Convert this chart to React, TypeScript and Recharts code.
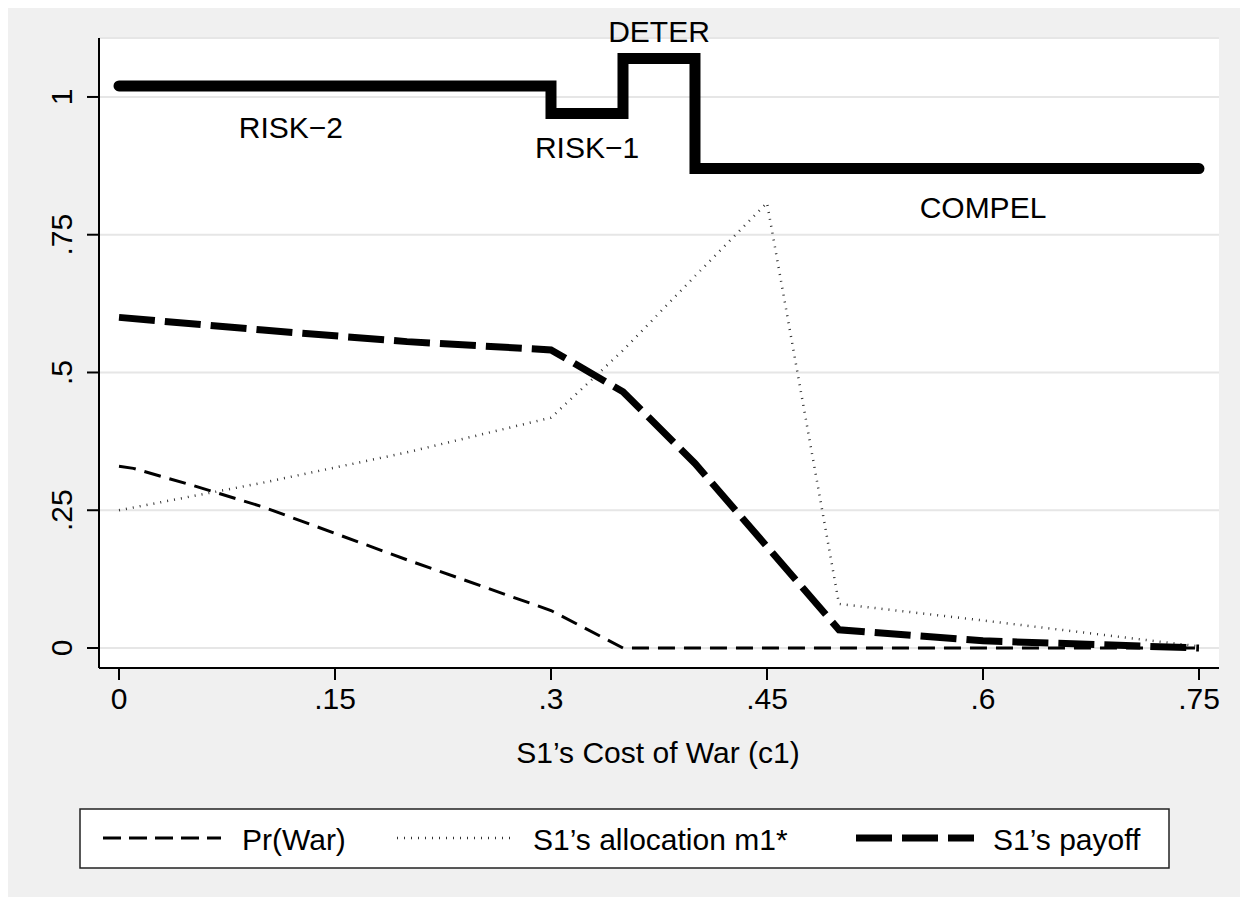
import React from 'react';
import {
  LineChart,
  Line,
  XAxis,
  YAxis,
  CartesianGrid,
  ReferenceDot,
} from 'recharts';

// regime step line
const regimeCost = [0, 0.3, 0.35, 0.4, 0.75];
const regimeLevel = [1.02, 0.97, 1.07, 0.87, 0.87];

// Pr(War)
const warCost = [0, 0.01, 0.05, 0.1, 0.2, 0.3, 0.35, 0.5, 0.75];
const prWar = [0.33, 0.326, 0.296, 0.256, 0.16, 0.068, 0, 0, 0];

// S1's allocation m1*
const allocCost = [0, 0.1, 0.2, 0.3, 0.35, 0.4, 0.45, 0.5, 0.6, 0.75];
const allocation = [0.25, 0.3, 0.355, 0.418, 0.54, 0.675, 0.808, 0.08, 0.05, 0.003];

// S1's payoff
const payoffCost = [0, 0.1, 0.2, 0.3, 0.35, 0.4, 0.5, 0.6, 0.75];
const payoff = [0.6, 0.577, 0.556, 0.541, 0.465, 0.335, 0.033, 0.013, 0];

const xTicks = [0, 0.15, 0.3, 0.45, 0.6, 0.75];
const yTicks = [0, 0.25, 0.5, 0.75, 1];

const regimeLabels = ['RISK\u22122', 'RISK\u22121', 'DETER', 'COMPEL'];
const regimeLabelX = [0.1194, 0.325, 0.375, 0.6];
const regimeLabelY = [0.9456, 0.909, 1.119, 0.8];

const FONT = '"Liberation Sans", Arial, Helvetica, sans-serif';

const toPoints = (xs: number[], ys: number[]) => xs.map((x, i) => ({ x, y: ys[i] }));

const fmt = (v: number) => (v === 0 || v === 1 ? String(v) : String(v).replace(/^0/, ''));

const XTick = ({ x, y, payload }: any) => (
  <text x={x} y={y + 29} textAnchor="middle" fontSize={30} fontFamily={FONT} fill="#000">
    {fmt(payload.value)}
  </text>
);

const YTick = ({ x, y, payload }: any) => (
  <text
    transform={`translate(${x},${y}) rotate(-90)`}
    textAnchor="middle"
    fontSize={30}
    fontFamily={FONT}
    fill="#000"
  >
    {fmt(payload.value)}
  </text>
);

const legendItems = [
  { label: 'Pr(War)', x: 103, textX: 242, stroke: '#000', width: 3, dash: '18 8' },
  { label: 'S1\u2019s allocation m1*', x: 397, textX: 533, stroke: '#333', width: 2.5, dash: '1 6' },
  { label: 'S1\u2019s payoff', x: 856, textX: 993, stroke: '#000', width: 7, dash: '36 10' },
];

export default function App() {
  return (
    <div
      style={{
        position: 'relative',
        width: 1248,
        height: 905,
        margin: -8,
        background: '#f0f0f0',
        overflow: 'hidden',
      }}
    >
      <LineChart width={1248} height={905} margin={{ top: 38, right: 29, left: 0, bottom: 137 }}>
        <CartesianGrid vertical={false} fill="#fff" stroke="#e6e6e6" strokeWidth={2} />
        <XAxis
          type="number"
          dataKey="x"
          domain={[-0.01389, 0.7639]}
          allowDataOverflow
          ticks={xTicks}
          tick={<XTick />}
          tickSize={12}
          tickMargin={0}
          height={100}
          axisLine={{ stroke: '#000', strokeWidth: 2 }}
          tickLine={{ stroke: '#000', strokeWidth: 2 }}
          label={{
            content: ({ viewBox }: any) => (
              <text
                x={viewBox.x + viewBox.width / 2 - 1}
                y={viewBox.y + 95}
                textAnchor="middle"
                fontSize={30}
                fontFamily={FONT}
                fill="#000"
              >
                S1’s Cost of War (c1)
              </text>
            ),
          }}
        />
        <YAxis
          type="number"
          dataKey="y"
          domain={[-0.0363, 1.107]}
          allowDataOverflow
          ticks={yTicks}
          tick={<YTick />}
          tickSize={12}
          tickMargin={15}
          width={99}
          axisLine={{ stroke: '#000', strokeWidth: 2 }}
          tickLine={{ stroke: '#000', strokeWidth: 2 }}
        />
        <Line
          data={toPoints(regimeCost, regimeLevel)}
          dataKey="y"
          type="stepAfter"
          stroke="#000"
          strokeWidth={11}
          strokeLinecap="round"
          strokeLinejoin="miter"
          dot={false}
          activeDot={false}
          isAnimationActive={false}
        />
        <Line
          data={toPoints(warCost, prWar)}
          dataKey="y"
          type="linear"
          stroke="#000"
          strokeWidth={3}
          strokeDasharray="17 9"
          dot={false}
          activeDot={false}
          isAnimationActive={false}
        />
        <Line
          data={toPoints(allocCost, allocation)}
          dataKey="y"
          type="linear"
          stroke="#333"
          strokeWidth={2.5}
          strokeDasharray="1 6"
          dot={false}
          activeDot={false}
          isAnimationActive={false}
        />
        <Line
          data={toPoints(payoffCost, payoff)}
          dataKey="y"
          type="linear"
          stroke="#000"
          strokeWidth={7}
          strokeDasharray="36 10"
          dot={false}
          activeDot={false}
          isAnimationActive={false}
        />
        {regimeLabels.map((t, i) => (
          <ReferenceDot
            key={t}
            x={regimeLabelX[i]}
            y={regimeLabelY[i]}
            r={0}
            ifOverflow="visible"
            fill="none"
            stroke="none"
            label={{ value: t, position: 'center', fontSize: 30, fontFamily: FONT, fill: '#000' }}
          />
        ))}
      </LineChart>
      {/* legend box */}
      <svg
        width={1248}
        height={905}
        style={{ position: 'absolute', left: 0, top: 0, pointerEvents: 'none' }}
      >
        <rect x={80} y={809} width={1089} height={59} fill="#fff" stroke="#222" strokeWidth={1.5} />
        {legendItems.map((it) => (
          <g key={it.label}>
            <line
              x1={it.x}
              x2={it.x + 118}
              y1={838}
              y2={838}
              stroke={it.stroke}
              strokeWidth={it.width}
              strokeDasharray={it.dash}
            />
            <text x={it.textX} y={850} fontSize={30} fontFamily={FONT} fill="#000">
              {it.label}
            </text>
          </g>
        ))}
      </svg>
    </div>
  );
}
